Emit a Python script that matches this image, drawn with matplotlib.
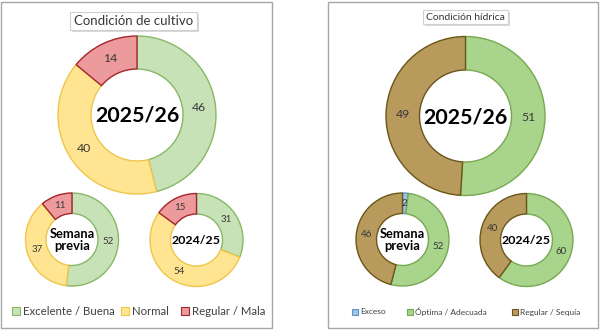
import matplotlib
matplotlib.use("Agg")
import matplotlib.pyplot as plt
from matplotlib.patches import Rectangle, Patch
from matplotlib.legend import Legend
from matplotlib import font_manager as fm

plt.rcParams['font.family'] = ['Lato', 'DejaVu Sans']

# ---- data ----
cult_labels = ["Excelente / Buena", "Normal", "Regular / Mala"]
cult_actual = [46, 40, 14]
cult_prev = [52, 37, 11]
cult_last = [31, 54, 15]

hid_labels = ["Exceso", "Óptima / Adecuada", "Regular / Sequía"]
hid_actual = [0, 51, 49]
hid_prev = [2, 52, 46]
hid_last = [0, 60, 40]

panel_titles = ["Condición de cultivo", "Condición hídrica"]
center_texts = ["2025/26", "Semana\nprevia", "2024/25"]

cult_fill = ["#c8e2b8", "#ffe592", "#ec9a9c"]
cult_edge = ["#86b865", "#eec64a", "#a3252d"]
hid_fill = ["#9ec5e6", "#a9d48c", "#b89a5c"]
hid_edge = ["#5b93c4", "#77a852", "#6a5618"]

BOLD = fm.FontProperties(family=["Lato", "DejaVu Sans"], weight="bold")

W, H = 600, 332
fig = plt.figure(figsize=(6, 3.32), dpi=100)
ax = fig.add_axes([0, 0, 1, 1])


def Y(y):
    return H - y


def donut(vals, cx, cy, r, rin, fills, edges, fs, lw):
    mid = (r + rin) / 2 / r
    wedges, texts, autot = ax.pie(
        vals, center=(cx, Y(cy)), radius=r, startangle=90, counterclock=False,
        colors=fills, wedgeprops=dict(width=r - rin, linewidth=lw),
        autopct=lambda p: f"{p:.0f}" if p > 0.5 else "", pctdistance=mid,
        textprops=dict(fontsize=fs, color="#383838"), frame=False)
    for wd, ec in zip(wedges, edges):
        wd.set_edgecolor(ec)
    return wedges


# panel frames
ax.add_patch(Rectangle((1, Y(328)), 271, 326, fill=False, ec="#a6a6a6", lw=1))
ax.add_patch(Rectangle((328, Y(328)), 270, 326, fill=False, ec="#a6a6a6", lw=1))

# left panel
donut(cult_actual, 137, 115, 79, 46, cult_fill, cult_edge, 8.8, 1.0)
donut(cult_prev, 72, 239.5, 46.5, 26, cult_fill, cult_edge, 7, 1.0)
donut(cult_last, 196.5, 240, 46.5, 26, cult_fill, cult_edge, 7, 1.0)

# right panel
donut(hid_actual, 465.5, 116, 79.5, 46, hid_fill, hid_edge, 8.8, 1.0)
donut(hid_prev, 402.5, 239.5, 46.5, 26, hid_fill, hid_edge, 7, 1.0)
donut(hid_last, 526.5, 240, 46.5, 26, hid_fill, hid_edge, 7, 1.0)

ax.set_xlim(0, W)
ax.set_ylim(0, H)
ax.set_aspect("auto")
ax.axis("off")

renderer = fig.canvas.get_renderer()


def fit_text(x, y, s, target_w, **kw):
    t = ax.text(x, Y(y), s, ha="center", va="center", fontproperties=BOLD,
                color="black", **kw)
    t.set_fontsize(20)
    w = t.get_window_extent(renderer).width
    t.set_fontsize(20 * target_w / w)
    return t


# center texts
for cx, cy in [(137, 116), (465.5, 117)]:
    fit_text(cx, cy, center_texts[0], 84)
for cx in [72, 402.5]:
    fit_text(cx, 240.5, center_texts[1], 45, linespacing=1.0)
for cx in [196.5, 526.5]:
    fit_text(cx, 241, center_texts[2], 49)


# titles with shadow box
def title_box(x0, x1, y0, y1, text, fs):
    ax.add_patch(Rectangle((x0 + 2, Y(y1 + 2)), x1 - x0, y1 - y0,
                           fc="#d9d9d9", ec="none"))
    ax.add_patch(Rectangle((x0, Y(y1)), x1 - x0, y1 - y0,
                           fc="white", ec="#d0d0d0", lw=0.8))
    ax.text((x0 + x1) / 2, Y((y0 + y1) / 2), text, ha="center", va="center",
            fontsize=fs, color="#383838")


title_box(70, 197, 12, 30, panel_titles[0], 9.5)
title_box(423, 508, 10, 24, panel_titles[1], 7.5)


# legends: one entry per legend, anchored at the marker's left edge
def legend_item(label, fill, edge, x, y, fs):
    h = [Patch(fc=fill, ec=edge, lw=0.8)]
    lg = Legend(ax, h, [label], loc="center left",
                bbox_to_anchor=(x, Y(y)), bbox_transform=ax.transData,
                frameon=False, fontsize=fs, handlelength=0.7,
                handleheight=0.7, handletextpad=0.3, borderpad=0,
                borderaxespad=0, labelcolor="#404040")
    ax.add_artist(lg)


for lab, f, e, x in zip(cult_labels, cult_fill, cult_edge, [12, 121, 181]):
    legend_item(lab, f, e, x, 311.5, 8.2)
for lab, f, e, x in zip(hid_labels, hid_fill, hid_edge, [352, 407, 512]):
    legend_item(lab, f, e, x, 312, 6.0)

fig.savefig("out.png", dpi=100)
